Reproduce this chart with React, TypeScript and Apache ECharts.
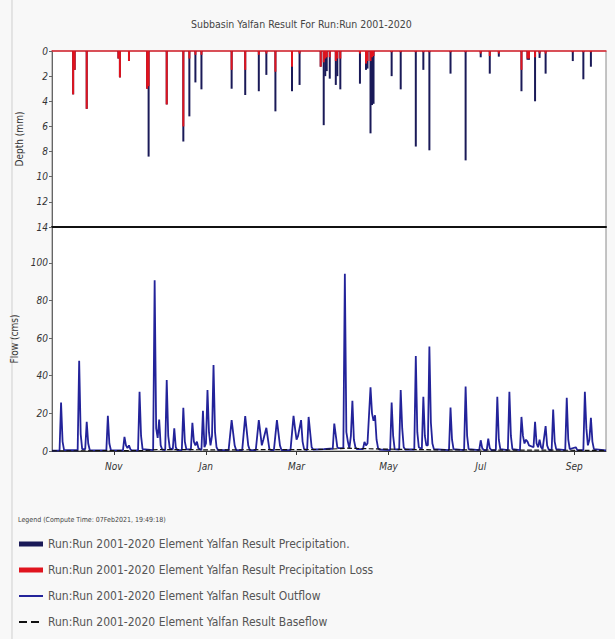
import React, { useEffect, useRef } from "react";
import * as echarts from "echarts";

// Day index 0 = 21 Sep 2019; axis spans 367 days.
const RANGE_DAYS = 367;
const monthTickDates = ["2019-11-01", "2020-01-01", "2020-03-01", "2020-05-01", "2020-07-01", "2020-09-01"];
const monthTickLabels = ["Nov", "Jan", "Mar", "May", "Jul", "Sep"];
const flowTicks = [0, 20, 40, 60, 80, 100];

// Precipitation bars (day index, total depth mm, loss depth mm)
const precipDay = [14, 15, 23, 44, 45, 51, 63, 64, 76, 87, 91, 95, 99, 119, 128, 137, 142, 148, 159, 164, 178, 180, 181, 182, 184, 188, 189, 191, 204, 208, 209, 211, 212, 213, 225, 231, 241, 246, 250, 264, 274, 284, 290, 296, 311, 315, 316, 320, 323, 327, 345, 352, 357];
const precipDepth = [3.45, 1.5, 4.6, 0.6, 2.1, 0.8, 3.0, 8.4, 4.25, 7.2, 5.2, 2.5, 3.05, 3.0, 3.5, 3.2, 1.9, 4.8, 3.2, 2.7, 1.25, 5.9, 2.0, 1.6, 2.2, 2.7, 2.0, 3.05, 2.6, 1.5, 1.4, 6.55, 4.3, 4.2, 2.0, 3.05, 7.6, 1.5, 7.9, 1.8, 8.7, 0.5, 1.8, 0.45, 3.2, 0.7, 0.7, 4.0, 0.55, 1.8, 0.8, 2.25, 1.25];
const lossDepth = [3.45, 1.5, 4.6, 0.6, 2.1, 0.8, 3.0, 2.8, 4.25, 6.0, 0.6, 0.3, 0.3, 1.5, 1.5, 0.3, 0.2, 1.65, 1.25, 0.2, 1.25, 0.9, 0.6, 0.5, 0.5, 0.8, 0.6, 0.6, 0.2, 1.0, 0.8, 0.8, 0.5, 0.4, 0.1, 0.1, 0.1, 0.1, 0.1, 0.1, 0.1, 0.2, 0.4, 0.2, 1.5, 0.6, 0.6, 0.5, 0.2, 0.2, 0.1, 0.1, 0.1];

// Outflow (day index, cms)
const flowDay = [0, 5, 6, 7, 8, 17, 18, 19, 20, 22, 23, 24, 25, 36, 37, 38, 39, 47, 48, 49, 50, 51, 52, 53, 57, 58, 59, 60, 67, 68, 69, 70, 71, 72, 73, 75, 76, 77, 78, 80, 81, 82, 83, 86, 87, 88, 89, 92, 93, 94, 95, 96, 97, 99, 100, 101, 102, 103, 104, 105, 106, 107, 108, 109, 110, 117, 119, 121, 122, 126, 128, 130, 131, 135, 137, 139, 140, 142, 144, 145, 147, 149, 151, 152, 158, 160, 161, 162, 163, 165, 166, 167, 169, 170, 172, 173, 180, 184, 186, 187, 189, 190, 193, 194, 195, 196, 197, 198, 199, 200, 201, 202, 206, 207, 208, 209, 211, 212, 213, 214, 215, 216, 217, 224, 225, 226, 227, 230, 231, 232, 233, 234, 240, 241, 242, 243, 245, 246, 247, 248, 249, 250, 251, 252, 253, 263, 264, 265, 266, 273, 274, 275, 276, 283, 284, 285, 286, 288, 289, 290, 291, 294, 295, 296, 297, 302, 303, 304, 305, 310, 311, 312, 313, 314, 315, 316, 319, 320, 321, 322, 323, 324, 325, 327, 328, 329, 331, 332, 333, 334, 340, 341, 342, 343, 347, 348, 352, 353, 354, 355, 356, 357, 358, 359, 367];
const flowValue = [0.2, 0.3, 25.8, 5, 0.5, 0.4, 48, 9, 1, 1, 15.5, 4, 0.5, 0.3, 18.7, 4, 0.5, 0.3, 7.5, 3, 1.5, 3, 0.8, 0.3, 0.3, 31.5, 8, 1, 0.5, 90.7, 12, 7, 16.7, 3, 0.8, 0.5, 37.7, 8, 1.5, 0.8, 12, 2, 0.5, 0.5, 23, 5, 1, 0.8, 15, 5, 3, 5, 1.5, 0.5, 21.4, 2, 4, 32.4, 10, 3, 8, 45.7, 10, 2, 0.5, 0.5, 16.4, 3, 0.5, 0.5, 18.5, 3, 0.5, 0.5, 16.4, 3, 6, 12.3, 1, 0.5, 0.5, 16.4, 3, 0.5, 0.5, 18.7, 12, 6, 8, 16.4, 5, 1, 0.5, 18.1, 2, 0.8, 1, 1.2, 1.2, 14.6, 2, 1.5, 1.5, 94.1, 10, 5, 1.5, 8, 26.7, 6, 2, 1, 1, 4.8, 3, 4, 33.8, 20, 16, 19, 6, 1.5, 0.8, 0.5, 25.8, 8, 1, 0.8, 32.4, 12, 2, 0.8, 0.8, 50.5, 10, 2, 1, 28.8, 8, 3, 3, 55.5, 15, 4, 1, 0.5, 23.1, 6, 1, 0.5, 34.2, 8, 1, 0.5, 5.7, 1.5, 0.5, 0.5, 6.6, 1.5, 0.5, 0.5, 28.8, 6, 1, 0.5, 31.5, 8, 1, 0.5, 18.1, 8, 4, 6, 5, 3, 2, 15.5, 4, 2, 6, 2, 1, 13.2, 3, 0.8, 0.5, 22, 5, 1, 0.5, 28.3, 6, 1, 2, 0.5, 0.5, 31.5, 12, 3, 6, 17.6, 5, 1, 0.3];

// Baseflow (day index, cms)
const baseDay = [0, 60, 70, 110, 175, 185, 195, 220, 255, 300, 340, 367];
const baseValue = [0.1, 0.2, 0.8, 0.6, 0.8, 1.0, 1.5, 1.0, 0.6, 0.5, 0.4, 0.3];

const NAME_PRECIP = "Run:Run 2001-2020 Element Yalfan Result Precipitation.";
const NAME_LOSS = "Run:Run 2001-2020 Element Yalfan Result Precipitation Loss";
const NAME_OUTFLOW = "Run:Run 2001-2020 Element Yalfan Result Outflow";
const NAME_BASEFLOW = "Run:Run 2001-2020 Element Yalfan Result Baseflow";

const FONT = "'Liberation Sans Narrow', 'DejaVu Sans Condensed', Lato, sans-serif";

const dayToTime = (d: number) => new Date(2019, 8, 21 + d).getTime();
const dateToTime = (s: string) => {
  const [y, m, d] = s.split("-").map(Number);
  return new Date(y, m - 1, d).getTime();
};

export default function App() {
  const ref = useRef<HTMLDivElement>(null);

  useEffect(() => {
    if (!ref.current) return;
    const chart = echarts.init(ref.current, undefined, { renderer: "svg" });
    const tMin = dayToTime(0);
    const tMax = dayToTime(RANGE_DAYS);
    const monthTimes = monthTickDates.map(dateToTime);

    const hiddenX = (gridIndex: number, position: string, color: string, width: number) => ({
      gridIndex, type: "value", min: tMin, max: tMax, position,
      axisLine: { show: true, onZero: false, lineStyle: { color, width } },
      axisTick: { show: false }, axisLabel: { show: false }, splitLine: { show: false },
    });

    const option: any = {
      animation: false,
      backgroundColor: "#f8f8f8",
      title: {
        text: "Subbasin Yalfan Result For Run:Run 2001-2020",
        left: 186,
        top: 13,
        textStyle: { fontSize: 10.5, fontWeight: "normal", color: "#444", fontFamily: FONT },
      },
      legend: {
        orient: "vertical",
        left: 13,
        top: 533,
        itemGap: 14,
        itemWidth: 24,
        itemHeight: 5,
        selectedMode: false,
        data: [
          { name: NAME_PRECIP, icon: "rect" },
          { name: NAME_LOSS, icon: "rect" },
          { name: NAME_OUTFLOW, itemStyle: { opacity: 0 } },
          { name: NAME_BASEFLOW, itemStyle: { opacity: 0 } },
        ],
        textStyle: { fontSize: 12, color: "#555", fontFamily: FONT },
      },
      graphic: [
        { type: "line", shape: { x1: 12, y1: 0, x2: 12, y2: 639 }, style: { stroke: "#cfcfcf", lineWidth: 1 } },
        {
          type: "text",
          left: 18,
          top: 516,
          style: { text: "Legend (Compute Time: 07Feb2021, 19:49:18)", fontSize: 7, fill: "#444", fontFamily: FONT },
        },
      ],
      grid: [
        { left: 52, right: 9, top: 51, height: 176, show: true, borderColor: "#8a8a8a", backgroundColor: "#ffffff" },
        { left: 52, right: 9, top: 227, height: 224, show: true, borderColor: "#8a8a8a", backgroundColor: "#ffffff" },
      ],
      xAxis: [
        hiddenX(0, "top", "#e02a35", 1.5),
        hiddenX(0, "bottom", "#111", 2),
        {
          gridIndex: 1, type: "value", min: tMin, max: tMax, position: "bottom",
          axisLine: { show: true, onZero: false, lineStyle: { color: "#333", width: 1 } },
          axisTick: { show: true, customValues: monthTimes, length: 4, lineStyle: { color: "#333" } },
          axisLabel: {
            customValues: monthTimes,
            formatter: (v: number) => {
              const i = monthTimes.indexOf(v);
              return i >= 0 ? monthTickLabels[i] : "";
            },
            fontSize: 10, fontStyle: "italic", color: "#333", margin: 10, fontFamily: FONT,
          },
          splitLine: { show: false },
        },
      ],
      yAxis: [
        {
          gridIndex: 0, type: "value", inverse: true, min: 0, max: 14, interval: 2,
          name: "Depth (mm)", nameLocation: "middle", nameGap: 28, nameRotate: 90,
          nameTextStyle: { fontSize: 10, color: "#333", fontFamily: FONT },
          axisLine: { show: true, lineStyle: { color: "#666" } },
          axisTick: { show: true, length: 3, lineStyle: { color: "#666" } },
          axisLabel: { fontSize: 10, fontStyle: "italic", color: "#333", margin: 4, fontFamily: FONT },
          splitLine: { show: false },
        },
        {
          gridIndex: 1, type: "value", min: 0, max: 119, interval: 20,
          name: "Flow (cms)", nameLocation: "middle", nameGap: 30, nameRotate: 90,
          nameTextStyle: { fontSize: 10, color: "#333", fontFamily: FONT },
          axisLine: { show: true, lineStyle: { color: "#666" } },
          axisTick: { show: true, length: 3, customValues: flowTicks, lineStyle: { color: "#666" } },
          axisLabel: { customValues: flowTicks, fontSize: 10, fontStyle: "italic", color: "#333", margin: 4, fontFamily: FONT },
          splitLine: { show: false },
        },
      ],
      series: [
        {
          name: NAME_PRECIP, type: "bar", xAxisIndex: 0, yAxisIndex: 0,
          barWidth: 2, barGap: "-100%",
          itemStyle: { color: "#1a1a58" },
          data: precipDay.map((d, i) => [dayToTime(d), precipDepth[i]]),
        },
        {
          name: NAME_LOSS, type: "bar", xAxisIndex: 0, yAxisIndex: 0,
          barWidth: 2, barGap: "-100%",
          itemStyle: { color: "#e0141e" },
          data: precipDay.map((d, i) => [dayToTime(d), lossDepth[i]]),
        },
        {
          name: NAME_OUTFLOW, type: "line", xAxisIndex: 2, yAxisIndex: 1,
          symbol: "none", showSymbol: false,
          lineStyle: { color: "#23239a", width: 1.8 },
          itemStyle: { color: "#23239a" },
          data: flowDay.map((d, i) => [dayToTime(d), flowValue[i]]),
        },
        {
          name: NAME_BASEFLOW, type: "line", xAxisIndex: 2, yAxisIndex: 1,
          symbol: "none", showSymbol: false,
          lineStyle: { color: "#111", width: 1.2, type: "dashed" },
          itemStyle: { color: "#111" },
          data: baseDay.map((d, i) => [dayToTime(d), baseValue[i]]),
        },
      ],
    };

    chart.setOption(option);
    return () => chart.dispose();
  }, []);

  return (
    <div
      ref={ref}
      style={{ position: "fixed", left: 0, top: 0, width: 615, height: 639 }}
    />
  );
}
